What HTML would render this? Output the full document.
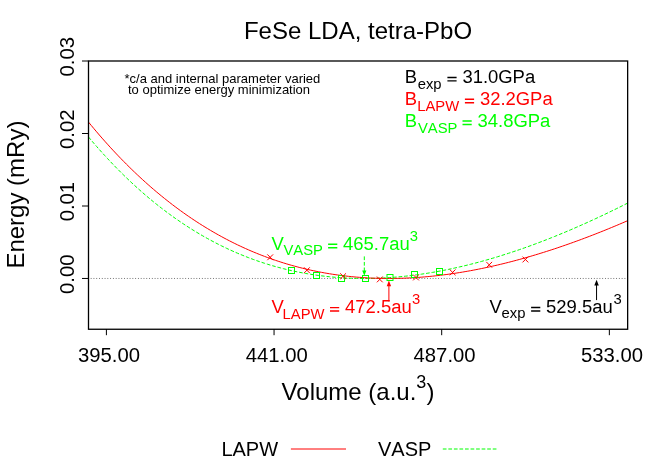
<!DOCTYPE html>
<html><head><meta charset="utf-8"><title>FeSe LDA</title>
<style>
html,body{margin:0;padding:0;background:#fff;}
body{width:664px;height:465px;overflow:hidden;}
svg{display:block;font-family:"Liberation Sans",sans-serif;will-change:transform;}
text{font-family:"Liberation Sans",sans-serif;}
</style></head><body>
<svg width="664" height="465" viewBox="0 0 664 465">
<rect width="664" height="465" fill="#fff"/>
<!-- zero line -->
<line x1="90.7" y1="278.46" x2="627.65" y2="278.46" stroke="#000" stroke-width="0.6" stroke-dasharray="0.9 1.88"/>
<!-- curves -->
<defs><clipPath id="c"><rect x="88.5" y="61.0" width="539.15" height="268.25"/></clipPath></defs>
<g clip-path="url(#c)" fill="none">
<path d="M88.50 137.00 L91.21 140.21 L93.92 143.37 L96.63 146.48 L99.34 149.55 L102.05 152.57 L104.76 155.55 L107.47 158.48 L110.17 161.37 L112.88 164.22 L115.59 167.02 L118.30 169.77 L121.01 172.49 L123.72 175.16 L126.43 177.79 L129.14 180.37 L131.85 182.92 L134.56 185.42 L137.27 187.89 L139.98 190.31 L142.69 192.69 L145.40 195.03 L148.10 197.34 L150.81 199.60 L153.52 201.83 L156.23 204.01 L158.94 206.16 L161.65 208.27 L164.36 210.34 L167.07 212.38 L169.78 214.38 L172.49 216.34 L175.20 218.27 L177.91 220.16 L180.62 222.01 L183.33 223.83 L186.03 225.61 L188.74 227.36 L191.45 229.08 L194.16 230.76 L196.87 232.40 L199.58 234.02 L202.29 235.59 L205.00 237.14 L207.71 238.65 L210.42 240.13 L213.13 241.58 L215.84 243.00 L218.55 244.38 L221.26 245.74 L223.96 247.06 L226.67 248.35 L229.38 249.61 L232.09 250.84 L234.80 252.04 L237.51 253.21 L240.22 254.34 L242.93 255.45 L245.64 256.54 L248.35 257.59 L251.06 258.61 L253.77 259.60 L256.48 260.57 L259.19 261.51 L261.89 262.42 L264.60 263.30 L267.31 264.16 L270.02 264.99 L272.73 265.79 L275.44 266.56 L278.15 267.31 L280.86 268.03 L283.57 268.73 L286.28 269.40 L288.99 270.04 L291.70 270.66 L294.41 271.25 L297.12 271.82 L299.83 272.36 L302.53 272.88 L305.24 273.38 L307.95 273.85 L310.66 274.29 L313.37 274.72 L316.08 275.11 L318.79 275.49 L321.50 275.84 L324.21 276.17 L326.92 276.48 L329.63 276.76 L332.34 277.02 L335.05 277.26 L337.76 277.48 L340.46 277.67 L343.17 277.84 L345.88 277.99 L348.59 278.12 L351.30 278.23 L354.01 278.32 L356.72 278.38 L359.43 278.43 L362.14 278.45 L364.85 278.46 L367.56 278.44 L370.27 278.41 L372.98 278.35 L375.69 278.28 L378.39 278.18 L381.10 278.07 L383.81 277.93 L386.52 277.78 L389.23 277.61 L391.94 277.41 L394.65 277.20 L397.36 276.98 L400.07 276.73 L402.78 276.46 L405.49 276.18 L408.20 275.88 L410.91 275.56 L413.62 275.22 L416.32 274.87 L419.03 274.50 L421.74 274.11 L424.45 273.70 L427.16 273.28 L429.87 272.84 L432.58 272.38 L435.29 271.91 L438.00 271.42 L440.71 270.91 L443.42 270.39 L446.13 269.85 L448.84 269.30 L451.55 268.73 L454.26 268.14 L456.96 267.54 L459.67 266.92 L462.38 266.29 L465.09 265.65 L467.80 264.98 L470.51 264.31 L473.22 263.61 L475.93 262.91 L478.64 262.19 L481.35 261.45 L484.06 260.70 L486.77 259.93 L489.48 259.16 L492.19 258.36 L494.89 257.56 L497.60 256.74 L500.31 255.90 L503.02 255.05 L505.73 254.19 L508.44 253.32 L511.15 252.43 L513.86 251.53 L516.57 250.62 L519.28 249.69 L521.99 248.75 L524.70 247.80 L527.41 246.83 L530.12 245.86 L532.82 244.87 L535.53 243.86 L538.24 242.85 L540.95 241.82 L543.66 240.78 L546.37 239.73 L549.08 238.67 L551.79 237.59 L554.50 236.51 L557.21 235.41 L559.92 234.30 L562.63 233.18 L565.34 232.05 L568.05 230.91 L570.75 229.75 L573.46 228.59 L576.17 227.41 L578.88 226.22 L581.59 225.03 L584.30 223.82 L587.01 222.60 L589.72 221.37 L592.43 220.13 L595.14 218.88 L597.85 217.62 L600.56 216.35 L603.27 215.07 L605.98 213.78 L608.68 212.48 L611.39 211.17 L614.10 209.85 L616.81 208.52 L619.52 207.18 L622.23 205.83 L624.94 204.47 L627.65 203.10" stroke="#00ff00" stroke-width="1" stroke-dasharray="3.7 1.85"/>
<path d="M88.50 122.10 L91.21 125.39 L93.92 128.64 L96.63 131.84 L99.34 135.00 L102.05 138.11 L104.76 141.18 L107.47 144.20 L110.17 147.19 L112.88 150.13 L115.59 153.02 L118.30 155.88 L121.01 158.69 L123.72 161.46 L126.43 164.20 L129.14 166.89 L131.85 169.54 L134.56 172.15 L137.27 174.72 L139.98 177.25 L142.69 179.74 L145.40 182.20 L148.10 184.62 L150.81 186.99 L153.52 189.33 L156.23 191.64 L158.94 193.90 L161.65 196.13 L164.36 198.33 L167.07 200.48 L169.78 202.60 L172.49 204.69 L175.20 206.74 L177.91 208.76 L180.62 210.74 L183.33 212.68 L186.03 214.60 L188.74 216.47 L191.45 218.32 L194.16 220.13 L196.87 221.91 L199.58 223.66 L202.29 225.37 L205.00 227.05 L207.71 228.70 L210.42 230.32 L213.13 231.91 L215.84 233.46 L218.55 234.99 L221.26 236.48 L223.96 237.95 L226.67 239.38 L229.38 240.78 L232.09 242.16 L234.80 243.50 L237.51 244.82 L240.22 246.10 L242.93 247.36 L245.64 248.59 L248.35 249.79 L251.06 250.97 L253.77 252.11 L256.48 253.23 L259.19 254.32 L261.89 255.39 L264.60 256.42 L267.31 257.43 L270.02 258.42 L272.73 259.37 L275.44 260.30 L278.15 261.21 L280.86 262.09 L283.57 262.94 L286.28 263.77 L288.99 264.58 L291.70 265.36 L294.41 266.11 L297.12 266.84 L299.83 267.55 L302.53 268.23 L305.24 268.89 L307.95 269.52 L310.66 270.14 L313.37 270.72 L316.08 271.29 L318.79 271.83 L321.50 272.35 L324.21 272.85 L326.92 273.32 L329.63 273.77 L332.34 274.21 L335.05 274.61 L337.76 275.00 L340.46 275.37 L343.17 275.71 L345.88 276.03 L348.59 276.34 L351.30 276.62 L354.01 276.88 L356.72 277.12 L359.43 277.34 L362.14 277.54 L364.85 277.72 L367.56 277.88 L370.27 278.02 L372.98 278.14 L375.69 278.24 L378.39 278.32 L381.10 278.38 L383.81 278.43 L386.52 278.45 L389.23 278.46 L391.94 278.45 L394.65 278.42 L397.36 278.37 L400.07 278.30 L402.78 278.22 L405.49 278.12 L408.20 278.00 L410.91 277.86 L413.62 277.71 L416.32 277.53 L419.03 277.35 L421.74 277.14 L424.45 276.92 L427.16 276.68 L429.87 276.42 L432.58 276.15 L435.29 275.86 L438.00 275.56 L440.71 275.24 L443.42 274.90 L446.13 274.55 L448.84 274.18 L451.55 273.80 L454.26 273.40 L456.96 272.98 L459.67 272.55 L462.38 272.11 L465.09 271.65 L467.80 271.18 L470.51 270.69 L473.22 270.18 L475.93 269.67 L478.64 269.13 L481.35 268.59 L484.06 268.03 L486.77 267.45 L489.48 266.86 L492.19 266.26 L494.89 265.64 L497.60 265.02 L500.31 264.37 L503.02 263.72 L505.73 263.05 L508.44 262.36 L511.15 261.67 L513.86 260.96 L516.57 260.24 L519.28 259.50 L521.99 258.75 L524.70 257.99 L527.41 257.22 L530.12 256.44 L532.82 255.64 L535.53 254.83 L538.24 254.01 L540.95 253.17 L543.66 252.33 L546.37 251.47 L549.08 250.60 L551.79 249.72 L554.50 248.83 L557.21 247.93 L559.92 247.01 L562.63 246.09 L565.34 245.15 L568.05 244.20 L570.75 243.24 L573.46 242.27 L576.17 241.29 L578.88 240.30 L581.59 239.30 L584.30 238.28 L587.01 237.26 L589.72 236.23 L592.43 235.18 L595.14 234.13 L597.85 233.06 L600.56 231.99 L603.27 230.90 L605.98 229.81 L608.68 228.70 L611.39 227.59 L614.10 226.46 L616.81 225.33 L619.52 224.19 L622.23 223.03 L624.94 221.87 L627.65 220.70" stroke="#ff0000" stroke-width="1"/>
<g stroke="#00ff00" stroke-width="1"><rect x="288.50" y="267.50" width="6.0" height="6.0"/>
<rect x="313.50" y="272.50" width="6.0" height="6.0"/>
<rect x="338.50" y="275.50" width="6.0" height="6.0"/>
<rect x="362.50" y="275.50" width="6.0" height="6.0"/>
<rect x="387.00" y="274.50" width="6.0" height="6.0"/>
<rect x="411.50" y="271.50" width="6.0" height="6.0"/>
<rect x="436.50" y="268.50" width="6.0" height="6.0"/></g>
<g stroke="#ff0000" stroke-width="1"><path d="M267.30 254.40L273.10 260.20M267.30 260.20L273.10 254.40"/>
<path d="M304.00 267.30L309.80 273.10M304.00 273.10L309.80 267.30"/>
<path d="M340.20 273.30L346.00 279.10M340.20 279.10L346.00 273.30"/>
<path d="M376.90 276.50L382.70 282.30M376.90 282.30L382.70 276.50"/>
<path d="M413.10 274.60L418.90 280.40M413.10 280.40L418.90 274.60"/>
<path d="M449.70 269.50L455.50 275.30M449.70 275.30L455.50 269.50"/>
<path d="M486.30 261.90L492.10 267.70M486.30 267.70L492.10 261.90"/>
<path d="M522.50 256.60L528.30 262.40M522.50 262.40L528.30 256.60"/></g>
</g>
<!-- box & ticks -->
<g stroke="#000" stroke-width="1.3" fill="none">
<rect x="88.5" y="61.0" width="539.15" height="268.25"/>
</g>
<g stroke="#000" stroke-width="1" fill="none">
<path d="M82 61H88.5M82 133.5H88.5M82 206H88.5M82 278.46H88.5"/>
<path d="M106.4 329.2V335.2M274.05 329.2V335.2M441.7 329.2V335.2M609.35 329.2V335.2"/>
</g>
<!-- title -->
<text x="358" y="39" font-size="24" text-anchor="middle">FeSe LDA, tetra-PbO</text>
<!-- x tick labels -->
<g font-size="20.3" text-anchor="middle">
<text x="109" y="361.8">395.00</text>
<text x="276.8" y="361.8">441.00</text>
<text x="444.6" y="361.8">487.00</text>
<text x="612" y="361.8">533.00</text>
</g>
<!-- y tick labels -->
<g font-size="20.3" text-anchor="middle">
<text transform="translate(74.3 56.7) rotate(-90)">0.03</text>
<text transform="translate(74.3 129.2) rotate(-90)">0.02</text>
<text transform="translate(74.3 201.6) rotate(-90)">0.01</text>
<text transform="translate(74.3 274.2) rotate(-90)">0.00</text>
</g>
<text transform="translate(24.4 194.6) rotate(-90)" font-size="24" text-anchor="middle">Energy (mRy)</text>
<text x="358" y="399.5" font-size="24" text-anchor="middle">Volume (a.u.<tspan font-size="18" dy="-11.3">3</tspan><tspan dy="11.3">)</tspan></text>
<!-- note -->
<g font-size="13">
<text x="124.5" y="83">*c/a and internal parameter varied</text>
<text x="128" y="93.5">to optimize energy minimization</text>
</g>
<!-- B labels -->
<g font-size="18.45" style="font-kerning:none">
<text y="83.1"><tspan x="404.8">B</tspan><tspan x="417.7" font-size="14.8" dy="5.8">exp</tspan><tspan x="462.40" dy="-5.8">31.0GPa</tspan></text>
<path d="M447.40 77.40h9.2M447.40 80.85h9.2" stroke="#000" stroke-width="1.45" fill="none"/>
<text y="104.9" fill="#ff0000"><tspan x="404.8">B</tspan><tspan x="417.2" font-size="14.8" dy="5.8">LAPW</tspan><tspan x="479.90" dy="-5.8">32.2GPa</tspan></text>
<path d="M464.90 99.20h9.2M464.90 102.65h9.2" stroke="#ff0000" stroke-width="1.45" fill="none"/>
<text y="126.7" fill="#00ff00"><tspan x="404.8">B</tspan><tspan x="417.9" font-size="14.8" dy="5.8">VASP</tspan><tspan x="477.50" dy="-5.8">34.8GPa</tspan></text>
<path d="M462.50 121.00h9.2M462.50 124.45h9.2" stroke="#00ff00" stroke-width="1.45" fill="none"/>
<text y="250" fill="#00ff00"><tspan x="271.4">V</tspan><tspan x="283.5" font-size="14.8" dy="5.2">VASP</tspan><tspan x="343.10" dy="-5.2">465.7au</tspan><tspan x="409.8" font-size="14.8" dy="-9.2">3</tspan></text>
<path d="M328.10 244.30h9.2M328.10 247.75h9.2" stroke="#00ff00" stroke-width="1.45" fill="none"/>
<text y="313.3" fill="#ff0000"><tspan x="271.6">V</tspan><tspan x="282.6" font-size="14.8" dy="5.2">LAPW</tspan><tspan x="345.00" dy="-5.2">472.5au</tspan><tspan x="412.1" font-size="14.8" dy="-9.2">3</tspan></text>
<path d="M330.00 307.60h9.2M330.00 311.05h9.2" stroke="#ff0000" stroke-width="1.45" fill="none"/>
<text y="313.2"><tspan x="489.5">V</tspan><tspan x="501.6" font-size="14.8" dy="5.2">exp</tspan><tspan x="546.10" dy="-5.2">529.5au</tspan><tspan x="613.4" font-size="14.8" dy="-9.2">3</tspan></text>
<path d="M531.10 307.50h9.2M531.10 310.95h9.2" stroke="#000" stroke-width="1.45" fill="none"/>
</g>

<!-- arrows -->
<g stroke-width="1">
<path d="M364.3 256.4V273" stroke="#00ff00" stroke-dasharray="3.7 1.85" fill="none"/>
<path d="M362.2 270.6L364.3 275.8L366.4 270.6Z" fill="#00ff00" stroke="none"/>
<path d="M388.9 301.5V284" stroke="#ff0000" fill="none"/>
<path d="M386.7 286.2L388.9 280.6L391.1 286.2Z" fill="#ff0000" stroke="none"/>
<path d="M596.55 300.1V283" stroke="#000" fill="none"/>
<path d="M594.3 285.5L596.55 279.7L598.8 285.5Z" fill="#000" stroke="none"/>
</g>
<!-- legend -->
<g font-size="20" style="font-kerning:none">
<text x="221.4" y="455.5">LAPW</text>
<text x="378" y="455.5">VASP</text>
</g>
<line x1="290.9" y1="449" x2="346" y2="449" stroke="#ff0000" stroke-width="1"/>
<line x1="442.8" y1="449" x2="497" y2="449" stroke="#00ff00" stroke-width="1" stroke-dasharray="3.7 1.85"/>
</svg>
</body></html>
